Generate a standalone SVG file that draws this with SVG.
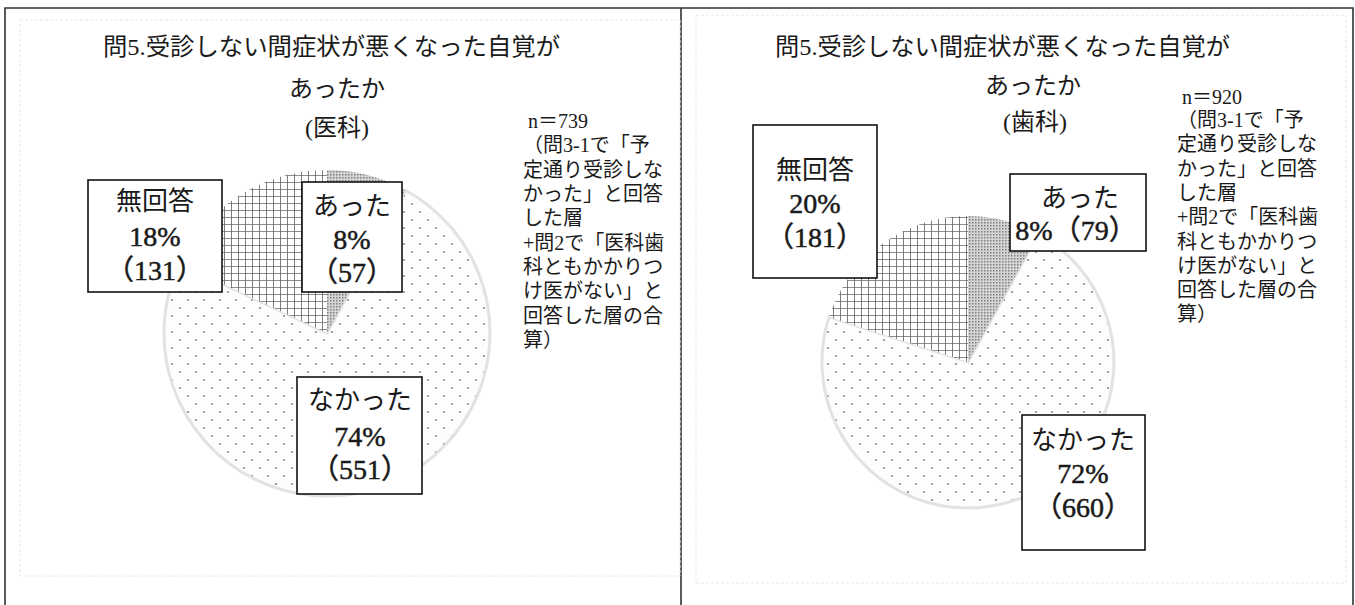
<svg xmlns="http://www.w3.org/2000/svg" width="1355" height="605" viewBox="0 0 1355 605">
<style>
text{font-family:"Liberation Serif","Noto Sans CJK JP",serif;fill:#1a1a1a}
.title{font-size:24px}
.sub{font-size:24px;text-anchor:middle}
.note{font-size:20px}
.lbl{font-size:26px;text-anchor:middle}
.num{font-size:28px;text-anchor:middle;stroke:#1a1a1a;stroke-width:0.5}
.box{fill:#fff;stroke:#111;stroke-width:1.6}
.frame{stroke:#333;stroke-width:1.6;fill:none}
.faint{stroke:#e8e8e8;stroke-width:1;fill:none;stroke-dasharray:3 2}
.dots{fill:url(#dotPat);stroke:#e2e2e2;stroke-width:3}
.grid{fill:url(#gridPat);stroke:none}
.fine{fill:url(#finePat);stroke:none}
</style>
<defs>
<pattern id="dotPat" width="16" height="16" patternUnits="userSpaceOnUse">
<rect width="16" height="16" fill="#fdfdfd"/>
<circle cx="4" cy="4" r="1.1" fill="#8a8a8a"/>
<circle cx="12" cy="12" r="1.1" fill="#8a8a8a"/>
</pattern>
<pattern id="gridPat" width="7" height="7" patternUnits="userSpaceOnUse">
<rect width="7" height="7" fill="#fff"/>
<path d="M0 0H7M0 0V7" stroke="#666" stroke-width="1.7"/>
</pattern>
<pattern id="finePat" width="3" height="3" patternUnits="userSpaceOnUse">
<rect width="3" height="3" fill="#d4d4d4"/>
<rect width="1.5" height="1.5" fill="#808080"/>
</pattern>
</defs>
<rect width="1355" height="605" fill="#fff"/>
<!-- frames -->
<path class="frame" d="M5 605V8H1353V605M681 8V605"/>
<rect class="faint" x="20" y="20" width="660" height="556"/>
<rect class="faint" x="696" y="15" width="650" height="568"/>

<!-- left chart -->
<g id="pie-left">
<path class="dots" d="M327 333L405.5 190.2A163 163 0 1 1 179.5 263.6Z"/>
<path class="grid" d="M327 333L179.5 263.6A163 163 0 0 1 327 170Z"/>
<path class="fine" d="M327 333L327 170A163 163 0 0 1 405.5 190.2Z"/>
</g>
<g id="title-left">
<text class="title" x="103" y="55" textLength="457" lengthAdjust="spacingAndGlyphs">問5.受診しない間症状が悪くなった自覚が</text>
<text class="sub" x="337" y="97">あったか</text>
<text class="sub" x="337" y="136">(医科)</text>
</g>
<g id="note-left">
<text class="note" x="528" y="128">n＝739</text>
<text class="note" x="523" y="152">（問3-1で「予</text>
<text class="note" x="523" y="177">定通り受診しな</text>
<text class="note" x="523" y="201">かった」と回答</text>
<text class="note" x="523" y="225">した層</text>
<text class="note" x="523" y="250">+問2で「医科歯</text>
<text class="note" x="523" y="274">科ともかかりつ</text>
<text class="note" x="523" y="298">け医がない」と</text>
<text class="note" x="523" y="323">回答した層の合</text>
<text class="note" x="523" y="347">算）</text>
</g>
<g id="label-left-mukaito">
<rect class="box" x="88" y="180" width="134" height="112"/>
<text class="lbl" x="155" y="210">無回答</text>
<text class="num" x="155" y="246">18%</text>
<text class="num" x="155" y="280">（131）</text>
</g>
<g id="label-left-atta">
<rect class="box" x="302" y="182" width="100" height="110"/>
<text class="lbl" x="352" y="215">あった</text>
<text class="num" x="352" y="249">8%</text>
<text class="num" x="352" y="282">（57）</text>
</g>
<g id="label-left-nakatta">
<rect class="box" x="297" y="377" width="125" height="117"/>
<text class="lbl" x="360" y="409">なかった</text>
<text class="num" x="360" y="446">74%</text>
<text class="num" x="360" y="479">（551）</text>
</g>

<!-- right chart -->
<g id="pie-right">
<path class="dots" d="M968 362L1038.3 234.1A146 146 0 1 1 829.1 316.9Z"/>
<path class="grid" d="M968 362L829.1 316.9A146 146 0 0 1 968 216Z"/>
<path class="fine" d="M968 362L968 216A146 146 0 0 1 1038.3 234.1Z"/>
</g>
<g id="title-right">
<text class="title" x="775" y="55" textLength="455" lengthAdjust="spacingAndGlyphs">問5.受診しない間症状が悪くなった自覚が</text>
<text class="sub" x="1033" y="94">あったか</text>
<text class="sub" x="1035" y="130">(歯科)</text>
</g>
<g id="note-right">
<text class="note" x="1182" y="104">n＝920</text>
<text class="note" x="1177" y="127">（問3-1で「予</text>
<text class="note" x="1177" y="151">定通り受診しな</text>
<text class="note" x="1177" y="176">かった」と回答</text>
<text class="note" x="1177" y="200">した層</text>
<text class="note" x="1177" y="224">+問2で「医科歯</text>
<text class="note" x="1177" y="249">科ともかかりつ</text>
<text class="note" x="1177" y="273">け医がない」と</text>
<text class="note" x="1177" y="297">回答した層の合</text>
<text class="note" x="1177" y="321">算）</text>
</g>
<g id="label-right-mukaito">
<rect class="box" x="753" y="125" width="124" height="153"/>
<text class="lbl" x="815" y="179">無回答</text>
<text class="num" x="815" y="213">20%</text>
<text class="num" x="815" y="247">（181）</text>
</g>
<g id="label-right-atta">
<rect class="box" x="1010" y="174" width="136" height="77"/>
<text class="lbl" x="1080" y="207">あった</text>
<text class="num" x="1076" y="240">8%（79）</text>
</g>
<g id="label-right-nakatta">
<rect class="box" x="1022" y="415" width="123" height="135"/>
<text class="lbl" x="1083" y="449">なかった</text>
<text class="num" x="1083" y="483">72%</text>
<text class="num" x="1083" y="517">（660）</text>
</g>
<g id="connectors"/>
</svg>
